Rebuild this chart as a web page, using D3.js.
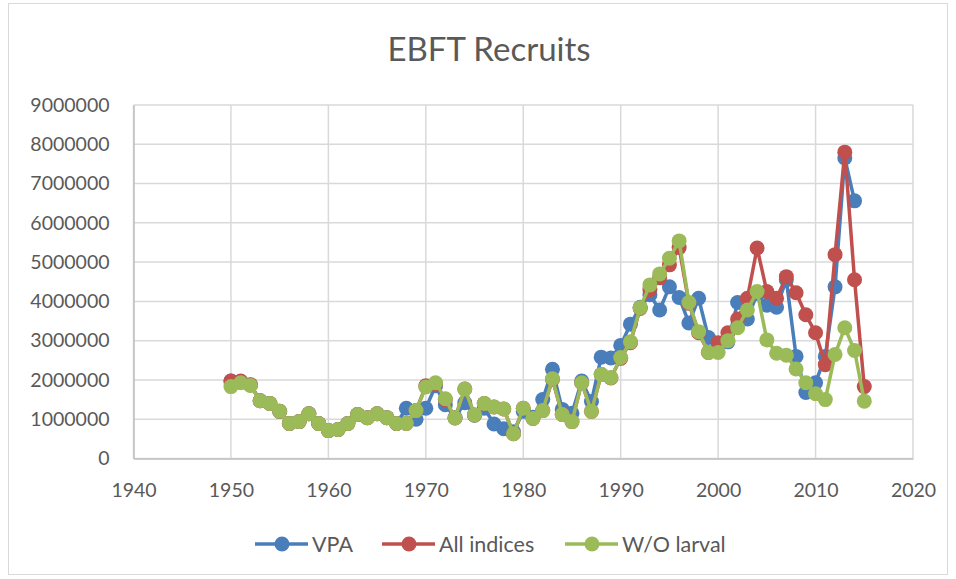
<!DOCTYPE html>
<html>
<head>
    <meta charset="utf-8">
    <title>EBFT Recruits</title>
    <script src="https://cdn.jsdelivr.net/npm/d3@7"></script>
    <style>
        body { margin: 0; background: #fff; }
        text { font-family: Lato, "Open Sans", sans-serif; fill: #595959; }
    </style>
</head>
<body>
<div id="chart"></div>
<script>
// data (recruits, in millions)
var years = d3.range(1950, 2016);

var vpa = [1.97, 1.95, 1.87, 1.47, 1.40, 1.20, 0.89, 0.94, 1.14, 0.89,
           0.71, 0.74, 0.89, 1.12, 1.04, 1.14, 1.04, 0.89, 1.28, 1.00,
           1.28, 1.85, 1.37, 1.04, 1.42, 1.10, 1.28, 0.88, 0.76, 0.68,
           1.20, 1.05, 1.50, 2.27, 1.25, 1.15, 1.97, 1.45, 2.58, 2.56,
           2.88, 3.42, 3.85, 4.17, 3.78, 4.37, 4.10, 3.45, 4.08, 3.08,
           2.93, 2.97, 3.97, 3.55, 4.20, 3.90, 3.85, 4.55, 2.60, 1.68,
           1.93, 2.60, 4.37, 7.65, 6.56, null];

var allIdx = [1.97, 1.97, 1.88, 1.47, 1.40, 1.20, 0.89, 0.94, 1.14, 0.89,
              0.71, 0.74, 0.89, 1.12, 1.04, 1.14, 1.04, 0.89, 0.89, 1.22,
              1.85, 1.90, 1.50, 1.03, 1.77, 1.11, 1.40, 1.31, 1.26, 0.63,
              1.28, 1.02, 1.22, 2.01, 1.12, 0.94, 1.93, 1.20, 2.14, 2.05,
              2.55, 2.95, 3.82, 4.30, 4.60, 4.93, 5.37, 3.95, 3.20, 2.70,
              2.95, 3.20, 3.55, 4.08, 5.36, 4.25, 4.08, 4.63, 4.22, 3.66,
              3.20, 2.39, 5.19, 7.80, 4.55, 1.83];

var woLarval = [1.83, 1.93, 1.86, 1.47, 1.40, 1.20, 0.89, 0.94, 1.14, 0.89,
                0.71, 0.74, 0.89, 1.12, 1.04, 1.14, 1.04, 0.89, 0.89, 1.22,
                1.82, 1.93, 1.52, 1.03, 1.77, 1.11, 1.40, 1.31, 1.26, 0.63,
                1.28, 1.02, 1.22, 2.03, 1.12, 0.94, 1.93, 1.20, 2.14, 2.06,
                2.57, 2.97, 3.84, 4.42, 4.70, 5.10, 5.54, 3.97, 3.23, 2.70,
                2.70, 3.00, 3.33, 3.78, 4.25, 3.02, 2.68, 2.63, 2.28, 1.93,
                1.65, 1.50, 2.65, 3.33, 2.75, 1.46];

var seriesNames = ["VPA", "All indices", "W/O larval"];
var seriesColors = ["#4a7ebb", "#c0504d", "#9bbb59"];
var xTicks = [1940, 1950, 1960, 1970, 1980, 1990, 2000, 2010, 2020];
var yTicks = [0, 1000000, 2000000, 3000000, 4000000, 5000000, 6000000, 7000000, 8000000, 9000000];

var width = 956, height = 579;
var plotLeft = 133.5, plotRight = 913, plotTop = 105, plotBottom = 458.5;

var svg = d3.select("#chart").append("svg")
    .attr("width", width)
    .attr("height", height);

// chart border
svg.append("rect")
    .attr("x", 8.5).attr("y", 3.5)
    .attr("width", 939).attr("height", 571)
    .attr("fill", "none")
    .attr("stroke", "#d9d9d9");

var x = d3.scaleLinear().domain([1940, 2020]).range([plotLeft, plotRight]);
var y = d3.scaleLinear().domain([0, 9000000]).range([plotBottom, plotTop]);

// gridlines
svg.append("g").selectAll("line").data(yTicks).enter().append("line")
    .attr("x1", plotLeft).attr("x2", plotRight)
    .attr("y1", function(d){ return y(d); })
    .attr("y2", function(d){ return y(d); })
    .attr("stroke", "#d9d9d9").attr("stroke-width", 1.5);

svg.append("g").selectAll("line").data(xTicks).enter().append("line")
    .attr("x1", function(d){ return x(d); })
    .attr("x2", function(d){ return x(d); })
    .attr("y1", plotTop).attr("y2", plotBottom)
    .attr("stroke", "#d9d9d9").attr("stroke-width", 1.5);

// axes
var yAxis = svg.append("g")
    .attr("transform", "translate(" + plotLeft + ",0)")
    .call(d3.axisLeft(y).tickValues(yTicks).tickSize(0).tickPadding(24).tickFormat(d3.format("d")));
var xAxis = svg.append("g")
    .attr("transform", "translate(0," + plotBottom + ")")
    .call(d3.axisBottom(x).tickValues(xTicks).tickSize(0).tickPadding(25).tickFormat(d3.format("d")));

[yAxis, xAxis].forEach(function(a){
    a.select(".domain").attr("stroke", "#bfbfbf").attr("stroke-width", 1.5);
    a.selectAll("text").style("font-size", "19.5px").attr("fill", "#595959");
});

// title
svg.append("text")
    .attr("x", 489).attr("y", 61)
    .attr("text-anchor", "middle")
    .style("font-size", "33px")
    .text("EBFT Recruits");

var allSeries = [vpa, allIdx, woLarval];

var line = d3.line()
    .defined(function(d){ return d[1] != null; })
    .x(function(d){ return x(d[0]); })
    .y(function(d){ return y(d[1] * 1e6); });

allSeries.forEach(function(s, i){
    var pts = years.map(function(yr, j){ return [yr, s[j]]; });
    var g = svg.append("g");
    g.append("path")
        .datum(pts)
        .attr("d", line)
        .attr("fill", "none")
        .attr("stroke", seriesColors[i])
        .attr("stroke-width", 3.5)
        .attr("stroke-linejoin", "round");
    g.selectAll("circle").data(pts.filter(function(d){ return d[1] != null; })).enter().append("circle")
        .attr("cx", function(d){ return x(d[0]); })
        .attr("cy", function(d){ return y(d[1] * 1e6); })
        .attr("r", 7.5)
        .attr("fill", seriesColors[i]);
});

// legend
var legendX = [255, 382, 565];
var legend = svg.append("g");
seriesNames.forEach(function(name, i){
    var lg = legend.append("g").attr("transform", "translate(" + legendX[i] + ",544)");
    lg.append("line").attr("x1", 0).attr("x2", 53).attr("y1", 0).attr("y2", 0)
        .attr("stroke", seriesColors[i]).attr("stroke-width", 3.5);
    lg.append("circle").attr("cx", 27).attr("cy", 0).attr("r", 7.5).attr("fill", seriesColors[i]);
    lg.append("text").attr("x", 57).attr("y", 8).style("font-size", "21.5px").text(name);
});
</script>
</body>
</html>
